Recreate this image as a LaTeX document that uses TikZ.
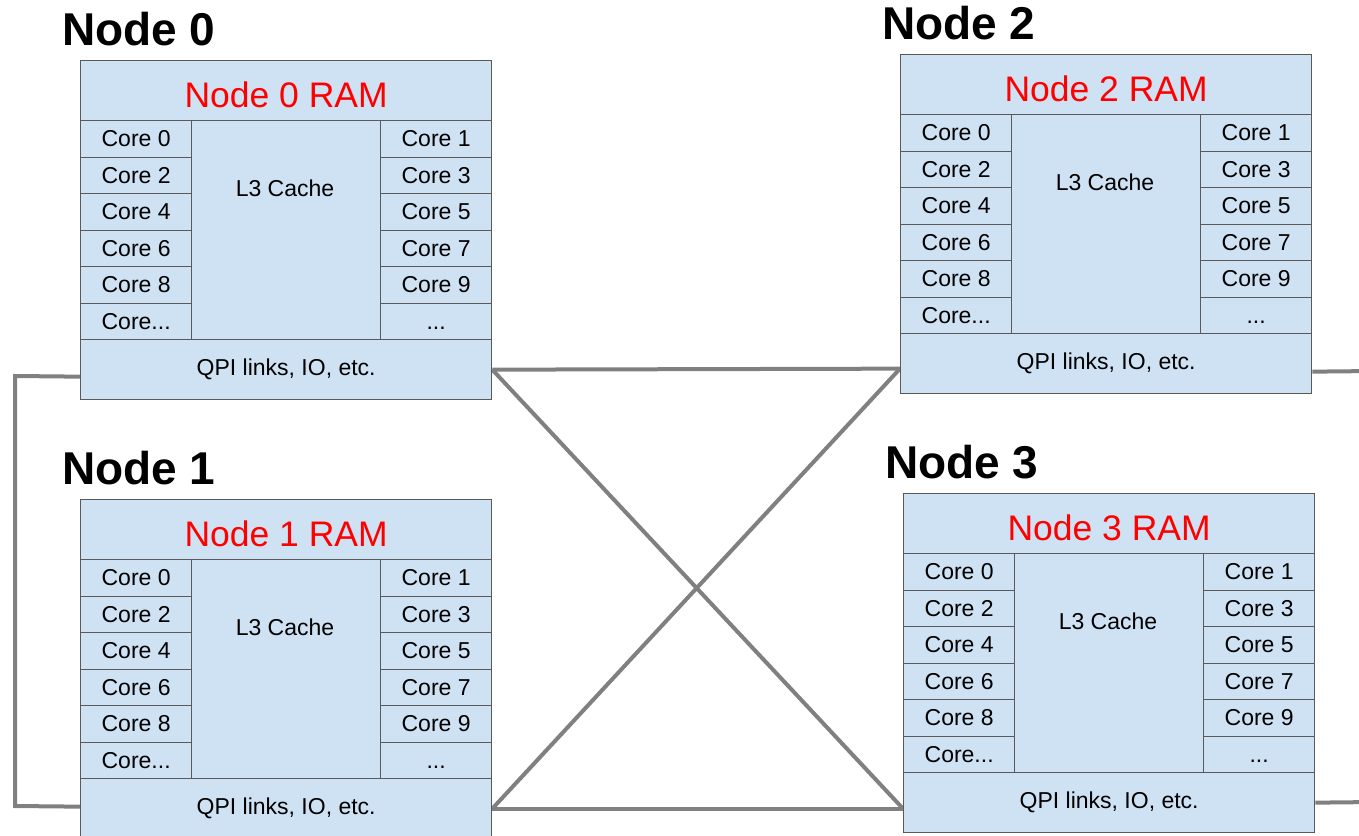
\documentclass[tikz,border=0pt]{standalone}
\usepackage{fontspec}
\setmainfont{Liberation Sans}
\usetikzlibrary{backgrounds}
\definecolor{cellblue}{HTML}{CFE2F3}
\definecolor{cellline}{HTML}{595959}
\definecolor{linkgray}{HTML}{808080}
\tikzset{
  cell/.style={draw=cellline, fill=cellblue, line width=1.3pt, inner sep=0pt,
    anchor=north west, font=\fontsize{23}{23}\selectfont},
  ramcell/.style={cell, text=red, font=\fontsize{35.5}{35.5}\selectfont,
    text height=34pt, text depth=0pt},
  cachetext/.style={inner sep=0pt, font=\fontsize{23}{23}\selectfont},
  nodetitle/.style={font=\bfseries\fontsize{46}{46}\selectfont, anchor=base west, inner sep=0pt},
  link/.style={draw=linkgray, line width=4pt},
}

% one row of cores: id, row index, X, Y, left text, right text
\newcommand\numarow[6]{%
  \node[cell, minimum width=111pt, minimum height=36.5pt]
    (c#1L#2) at (#3, #4+60+36.5*#2) {#5};
  \node[cell, minimum width=111pt, minimum height=36.5pt]
    (c#1R#2) at (#3+300, #4+60+36.5*#2) {#6};
}

% one NUMA node: id, X, Y (top left of the block)
\newcommand\numablock[3]{%
  \node[nodetitle] (t#1) at (#2-18, #3-15) {Node #1};
  \node[ramcell, minimum width=411pt, minimum height=60pt] (r#1) at (#2, #3) {Node #1 RAM};
  \node[cell, minimum width=189pt, minimum height=219pt] (l#1) at (#2+111, #3+60) {};
  \node[cachetext] (lt#1) at (#2+205, #3+128) {L3 Cache};
  \numarow{#1}{0}{#2}{#3}{Core 0}{Core 1}
  \numarow{#1}{1}{#2}{#3}{Core 2}{Core 3}
  \numarow{#1}{2}{#2}{#3}{Core 4}{Core 5}
  \numarow{#1}{3}{#2}{#3}{Core 6}{Core 7}
  \numarow{#1}{4}{#2}{#3}{Core 8}{Core 9}
  \numarow{#1}{5}{#2}{#3}{Core...}{\vphantom{C}...}
  \node[cell, minimum width=411pt, minimum height=60pt] (q#1) at (#2, #3+279) {QPI links, IO, etc.};
}

\begin{document}
\begin{tikzpicture}[x=1pt, y=-1pt]
  \useasboundingbox (0,0) rectangle (1359,835);
  \clip (0,0) rectangle (1359,835);

  \numablock{0}{80}{60}
  \numablock{1}{80}{499}
  \numablock{2}{900}{54}
  \numablock{3}{903}{493}

  \coordinate (loopTop) at (15,376);
  \coordinate (loopBot) at (15,806);
  \coordinate (outR2) at (1375,371);
  \coordinate (outR3) at (1375,802);

  \begin{pgfonlayer}{background}
    \draw[link] ([yshift=-7pt]q0.west) -- (loopTop) -- (loopBot) -- ([yshift=2pt]q1.west);
    \draw[link] (q0.east) -- ([yshift=-5pt]q2.west);
    \draw[link] (q0.east) -- ([yshift=-6pt]q3.west);
    \draw[link] (q1.east) -- ([yshift=-5pt]q2.west);
    \draw[link] (q1.east) -- ([yshift=-6pt]q3.west);
    \draw[link] ([yshift=-8pt]q2.east) -- (outR2);
    \draw[link] (q3.east) -- (outR3);
  \end{pgfonlayer}
\end{tikzpicture}
\end{document}
